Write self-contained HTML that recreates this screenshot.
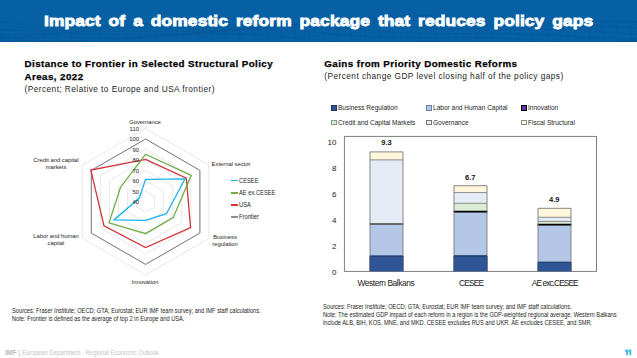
<!DOCTYPE html>
<html><head><meta charset="utf-8">
<style>
html,body{margin:0;padding:0;background:#fff;}
body{width:637px;height:358px;position:relative;overflow:hidden;font-family:"Liberation Sans",sans-serif;color:#000;}
.abs{position:absolute;left:0;top:0;}
.t{position:absolute;white-space:nowrap;line-height:1;}
#hdr{position:absolute;left:0;top:0;width:637px;height:42.4px;background:linear-gradient(to bottom,#0660a3 0,#0660a3 40.6px,#05579a 41.2px,#05579a 42.4px);overflow:hidden;}
#ttl{position:absolute;left:43.7px;top:13.3px;color:#fff;font-weight:bold;font-size:15.4px;transform-origin:0 0;transform:scaleX(1.13);-webkit-text-stroke:0.85px #fff;letter-spacing:0.1px;word-spacing:2.6px;}
.h1{font-weight:bold;font-size:9.8px;letter-spacing:0.42px;color:#000;-webkit-text-stroke:0.25px #000;}
.h2{font-size:8.3px;letter-spacing:0.44px;color:#1e1e1e;}
.rl{font-size:6.25px;color:#1e1e1e;text-align:center;line-height:7.05px;transform:scaleX(0.93);transform-origin:50% 0;}
.tick{font-size:6.2px;color:#1a1a1a;text-align:right;width:20px;transform:scaleX(0.95);transform-origin:100% 0;}
.lg{font-size:6.7px;color:#1e1e1e;transform:scaleX(0.86);transform-origin:0 0;}
.bl{font-size:8.4px;color:#222;letter-spacing:-0.43px;}
.bv{font-size:7.5px;color:#111;font-weight:bold;}
.bleg{font-size:7.7px;color:#1e1e1e;transform:scaleX(0.85);transform-origin:0 0;}
.mk{position:absolute;box-sizing:border-box;width:5.1px;height:5.1px;border:0.85px solid #777;}
.ft{font-size:7.3px;color:#1e1e1e;transform-origin:0 0;transform:scaleX(0.78);}
.yt{font-size:8px;color:#222;text-align:right;width:14px;}
</style></head><body>
<div id="hdr"><svg class="abs" width="637" height="43" viewBox="0 0 637 43"><polyline points="0,22.0 8,22.8 16,23.6 24,24.3 32,25.0 40,25.6 48,26.1 56,26.5 64,26.8 72,27.0 80,27.0 88,27.0 96,26.9 104,26.6 112,26.4 120,26.1 128,25.8 136,25.4 144,25.1 152,24.9 160,24.6 168,24.4 176,24.3 184,24.3 192,24.3 200,24.3 208,24.4 216,24.6 224,24.7 232,24.9 240,25.0 248,25.1 256,25.1 264,25.1 272,25.0 280,24.8 288,24.5 296,24.1 304,23.6 312,23.0 320,22.4 328,21.7 336,20.9 344,20.2 352,19.4 360,18.7 368,18.0 376,17.4 384,16.8 392,16.4 400,16.1 408,15.9 416,15.8 424,15.9 432,16.0 440,16.3 448,16.6 456,17.0 464,17.5 472,18.0 480,18.5 488,19.1 496,19.6 504,20.0 512,20.4 520,20.7 528,21.0 536,21.2 544,21.3 552,21.4 560,21.4 568,21.4 576,21.3 584,21.2 592,21.2 600,21.2 608,21.2 616,21.3 624,21.4 632,21.7 640,22.0" fill="none" stroke="#034f8c" stroke-width="0.6" opacity="0.45"/><polyline points="0,29.4 8,30.0 16,30.4 24,30.7 32,30.9 40,30.9 48,30.9 56,30.8 64,30.6 72,30.3 80,29.9 88,29.6 96,29.2 104,28.9 112,28.5 120,28.2 128,28.0 136,27.8 144,27.7 152,27.6 160,27.6 168,27.7 176,27.8 184,27.9 192,28.0 200,28.1 208,28.2 216,28.3 224,28.3 232,28.2 240,28.0 248,27.7 256,27.4 264,26.9 272,26.4 280,25.8 288,25.1 296,24.4 304,23.6 312,22.9 320,22.2 328,21.5 336,20.9 344,20.3 352,19.9 360,19.6 368,19.4 376,19.3 384,19.3 392,19.5 400,19.7 408,20.1 416,20.5 424,21.0 432,21.6 440,22.1 448,22.7 456,23.2 464,23.7 472,24.2 480,24.6 488,24.9 496,25.1 504,25.3 512,25.4 520,25.4 528,25.4 536,25.4 544,25.4 552,25.3 560,25.3 568,25.3 576,25.3 584,25.4 592,25.6 600,25.9 608,26.2 616,26.6 624,27.1 632,27.6 640,28.2" fill="none" stroke="#034f8c" stroke-width="0.6" opacity="0.45"/><polyline points="0,34.8 8,34.8 16,34.6 24,34.4 32,34.1 40,33.8 48,33.4 56,33.0 64,32.6 72,32.2 80,31.8 88,31.5 96,31.3 104,31.1 112,31.0 120,30.9 128,30.9 136,31.0 144,31.1 152,31.2 160,31.3 168,31.3 176,31.4 184,31.4 192,31.3 200,31.2 208,30.9 216,30.6 224,30.2 232,29.7 240,29.1 248,28.5 256,27.8 264,27.1 272,26.4 280,25.7 288,25.0 296,24.4 304,23.9 312,23.4 320,23.1 328,22.9 336,22.8 344,22.8 352,23.0 360,23.2 368,23.6 376,24.0 384,24.6 392,25.1 400,25.7 408,26.3 416,26.9 424,27.5 432,28.0 440,28.4 448,28.8 456,29.1 464,29.3 472,29.4 480,29.5 488,29.5 496,29.5 504,29.5 512,29.4 520,29.4 528,29.4 536,29.4 544,29.5 552,29.6 560,29.8 568,30.1 576,30.4 584,30.9 592,31.4 600,31.9 608,32.4 616,33.0 624,33.5 632,34.1 640,34.5" fill="none" stroke="#034f8c" stroke-width="0.6" opacity="0.45"/><polyline points="0,37.6 8,37.2 16,36.7 24,36.3 32,35.8 40,35.4 48,35.1 56,34.7 64,34.5 72,34.3 80,34.2 88,34.2 96,34.2 104,34.2 112,34.3 120,34.4 128,34.5 136,34.5 144,34.5 152,34.5 160,34.3 168,34.1 176,33.8 184,33.5 192,33.0 200,32.5 208,31.9 216,31.2 224,30.6 232,29.9 240,29.2 248,28.5 256,27.9 264,27.4 272,27.0 280,26.6 288,26.4 296,26.3 304,26.3 312,26.5 320,26.8 328,27.1 336,27.6 344,28.1 352,28.7 360,29.4 368,30.0 376,30.6 384,31.2 392,31.8 400,32.3 408,32.7 416,33.0 424,33.3 432,33.5 440,33.6 448,33.6 456,33.6 464,33.6 472,33.5 480,33.5 488,33.4 496,33.4 504,33.5 512,33.6 520,33.7 528,33.9 536,34.3 544,34.6 552,35.0 560,35.5 568,36.0 576,36.6 584,37.1 592,37.6 600,38.0 608,38.4 616,38.7 624,38.9 632,39.0 640,39.0" fill="none" stroke="#034f8c" stroke-width="0.6" opacity="0.45"/><polyline points="0,39.0 8,38.6 16,38.2 24,37.9 32,37.7 40,37.5 48,37.4 56,37.4 64,37.4 72,37.4 80,37.5 88,37.6 96,37.6 104,37.6 112,37.6 120,37.5 128,37.3 136,37.1 144,36.8 152,36.3 160,35.9 168,35.3 176,34.7 184,34.1 192,33.4 200,32.7 208,32.1 216,31.5 224,31.0 232,30.6 240,30.2 248,30.0 256,29.9 264,29.9 272,30.1 280,30.3 288,30.7 296,31.2 304,31.7 312,32.3 320,33.0 328,33.7 336,34.3 344,35.0 352,35.6 360,36.1 368,36.6 376,37.0 384,37.3 392,37.5 400,37.6 408,37.7 416,37.7 424,37.7 432,37.6 440,37.6 448,37.5 456,37.5 464,37.5 472,37.5 480,37.6 488,37.8 496,38.0 504,38.4 512,38.7 520,39.2 528,39.6 536,40.1 544,40.6 552,41.0 560,41.5 568,41.8 576,42.1 584,42.3 592,42.4 600,42.4 608,42.2 616,42.0 624,41.6 632,41.1 640,40.5" fill="none" stroke="#034f8c" stroke-width="0.6" opacity="0.45"/><polyline points="0,40.8 8,40.6 16,40.5 24,40.5 32,40.5 40,40.6 48,40.6 56,40.7 64,40.7 72,40.7 80,40.6 88,40.5 96,40.3 104,40.0 112,39.7 120,39.2 128,38.7 136,38.2 144,37.6 152,36.9 160,36.3 168,35.7 176,35.1 184,34.6 192,34.2 200,33.9 208,33.6 216,33.5 224,33.6 232,33.7 240,34.0 248,34.3 256,34.8 264,35.4 272,36.0 280,36.7 288,37.4 296,38.1 304,38.7 312,39.4 320,40.0 328,40.5 336,40.9 344,41.2 352,41.5 360,41.7 368,41.8 376,41.8 384,41.8 392,41.7 400,41.7 408,41.6 416,41.5 424,41.5 432,41.5 440,41.5 448,41.6 456,41.8 464,42.1 472,42.4 480,42.8 488,43.2 496,43.6 504,44.0 512,44.5 520,44.9 528,45.2 536,45.5 544,45.7 552,45.8 560,45.8 568,45.6 576,45.4 584,45.0 592,44.5 600,44.0 608,43.3 616,42.6 624,41.8 632,41.0 640,40.2" fill="none" stroke="#034f8c" stroke-width="0.6" opacity="0.45"/><line x1="0" y1="30.0" x2="3" y2="42" stroke="#034f8c" stroke-width="0.5" opacity="0.35"/><line x1="14" y1="30.7" x2="17" y2="42" stroke="#034f8c" stroke-width="0.5" opacity="0.35"/><line x1="28" y1="31.3" x2="31" y2="42" stroke="#034f8c" stroke-width="0.5" opacity="0.35"/><line x1="42" y1="31.9" x2="45" y2="42" stroke="#034f8c" stroke-width="0.5" opacity="0.35"/><line x1="56" y1="32.4" x2="59" y2="42" stroke="#034f8c" stroke-width="0.5" opacity="0.35"/><line x1="70" y1="32.8" x2="73" y2="42" stroke="#034f8c" stroke-width="0.5" opacity="0.35"/><line x1="84" y1="33.0" x2="87" y2="42" stroke="#034f8c" stroke-width="0.5" opacity="0.35"/><line x1="98" y1="33.0" x2="101" y2="42" stroke="#034f8c" stroke-width="0.5" opacity="0.35"/><line x1="112" y1="32.9" x2="115" y2="42" stroke="#034f8c" stroke-width="0.5" opacity="0.35"/><line x1="126" y1="32.6" x2="129" y2="42" stroke="#034f8c" stroke-width="0.5" opacity="0.35"/><line x1="140" y1="32.2" x2="143" y2="42" stroke="#034f8c" stroke-width="0.5" opacity="0.35"/><line x1="154" y1="31.6" x2="157" y2="42" stroke="#034f8c" stroke-width="0.5" opacity="0.35"/><line x1="168" y1="31.0" x2="171" y2="42" stroke="#034f8c" stroke-width="0.5" opacity="0.35"/><line x1="182" y1="30.3" x2="185" y2="42" stroke="#034f8c" stroke-width="0.5" opacity="0.35"/><line x1="196" y1="29.6" x2="199" y2="42" stroke="#034f8c" stroke-width="0.5" opacity="0.35"/><line x1="210" y1="28.9" x2="213" y2="42" stroke="#034f8c" stroke-width="0.5" opacity="0.35"/><line x1="224" y1="28.3" x2="227" y2="42" stroke="#034f8c" stroke-width="0.5" opacity="0.35"/><line x1="238" y1="27.8" x2="241" y2="42" stroke="#034f8c" stroke-width="0.5" opacity="0.35"/><line x1="252" y1="27.4" x2="255" y2="42" stroke="#034f8c" stroke-width="0.5" opacity="0.35"/><line x1="266" y1="27.1" x2="269" y2="42" stroke="#034f8c" stroke-width="0.5" opacity="0.35"/><line x1="280" y1="27.0" x2="283" y2="42" stroke="#034f8c" stroke-width="0.5" opacity="0.35"/><line x1="294" y1="27.1" x2="297" y2="42" stroke="#034f8c" stroke-width="0.5" opacity="0.35"/><line x1="308" y1="27.3" x2="311" y2="42" stroke="#034f8c" stroke-width="0.5" opacity="0.35"/><line x1="322" y1="27.6" x2="325" y2="42" stroke="#034f8c" stroke-width="0.5" opacity="0.35"/><line x1="336" y1="28.1" x2="339" y2="42" stroke="#034f8c" stroke-width="0.5" opacity="0.35"/><line x1="350" y1="28.7" x2="353" y2="42" stroke="#034f8c" stroke-width="0.5" opacity="0.35"/><line x1="364" y1="29.4" x2="367" y2="42" stroke="#034f8c" stroke-width="0.5" opacity="0.35"/><line x1="378" y1="30.1" x2="381" y2="42" stroke="#034f8c" stroke-width="0.5" opacity="0.35"/><line x1="392" y1="30.7" x2="395" y2="42" stroke="#034f8c" stroke-width="0.5" opacity="0.35"/><line x1="406" y1="31.4" x2="409" y2="42" stroke="#034f8c" stroke-width="0.5" opacity="0.35"/><line x1="420" y1="32.0" x2="423" y2="42" stroke="#034f8c" stroke-width="0.5" opacity="0.35"/><line x1="434" y1="32.4" x2="437" y2="42" stroke="#034f8c" stroke-width="0.5" opacity="0.35"/><line x1="448" y1="32.8" x2="451" y2="42" stroke="#034f8c" stroke-width="0.5" opacity="0.35"/><line x1="462" y1="33.0" x2="465" y2="42" stroke="#034f8c" stroke-width="0.5" opacity="0.35"/><line x1="476" y1="33.0" x2="479" y2="42" stroke="#034f8c" stroke-width="0.5" opacity="0.35"/><line x1="490" y1="32.9" x2="493" y2="42" stroke="#034f8c" stroke-width="0.5" opacity="0.35"/><line x1="504" y1="32.6" x2="507" y2="42" stroke="#034f8c" stroke-width="0.5" opacity="0.35"/><line x1="518" y1="32.1" x2="521" y2="42" stroke="#034f8c" stroke-width="0.5" opacity="0.35"/><line x1="532" y1="31.6" x2="535" y2="42" stroke="#034f8c" stroke-width="0.5" opacity="0.35"/><line x1="546" y1="31.0" x2="549" y2="42" stroke="#034f8c" stroke-width="0.5" opacity="0.35"/><line x1="560" y1="30.3" x2="563" y2="42" stroke="#034f8c" stroke-width="0.5" opacity="0.35"/><line x1="574" y1="29.6" x2="577" y2="42" stroke="#034f8c" stroke-width="0.5" opacity="0.35"/><line x1="588" y1="28.9" x2="591" y2="42" stroke="#034f8c" stroke-width="0.5" opacity="0.35"/><line x1="602" y1="28.3" x2="605" y2="42" stroke="#034f8c" stroke-width="0.5" opacity="0.35"/><line x1="616" y1="27.8" x2="619" y2="42" stroke="#034f8c" stroke-width="0.5" opacity="0.35"/><line x1="630" y1="27.4" x2="633" y2="42" stroke="#034f8c" stroke-width="0.5" opacity="0.35"/></svg></div>
<div id="ttl" class="t">Impact of a domestic reform package that reduces policy gaps</div>

<div class="t h1" style="left:24.5px;top:59.3px">Distance to Frontier in Selected Structural Policy</div>
<div class="t h1" style="left:24.5px;top:71.7px">Areas, 2022</div>
<div class="t h2" style="left:24.5px;top:84.9px">(Percent; Relative to Europe and USA frontier)</div>

<div class="t h1" style="left:324.3px;top:59.3px">Gains from Priority Domestic Reforms</div>
<div class="t h2" style="left:324.3px;top:72.2px">(Percent change GDP level closing half of the policy gaps)</div>

<svg class="abs" width="637" height="358" viewBox="0 0 637 358"><polygon points="145.60,191.25 154.65,196.47 154.65,206.92 145.60,212.15 136.55,206.92 136.55,196.47" fill="none" stroke="#dcdcdc" stroke-width="0.7"/><polygon points="145.60,180.80 163.70,191.25 163.70,212.15 145.60,222.60 127.50,212.15 127.50,191.25" fill="none" stroke="#dcdcdc" stroke-width="0.7"/><polygon points="145.60,170.35 172.75,186.02 172.75,217.38 145.60,233.05 118.45,217.38 118.45,186.02" fill="none" stroke="#dcdcdc" stroke-width="0.7"/><polygon points="145.60,159.90 181.80,180.80 181.80,222.60 145.60,243.50 109.40,222.60 109.40,180.80" fill="none" stroke="#dcdcdc" stroke-width="0.7"/><polygon points="145.60,149.45 190.85,175.57 190.85,227.82 145.60,253.95 100.35,227.82 100.35,175.57" fill="none" stroke="#dcdcdc" stroke-width="0.7"/><polygon points="145.60,139.00 199.90,170.35 199.90,233.05 145.60,264.40 91.30,233.05 91.30,170.35" fill="none" stroke="#dcdcdc" stroke-width="0.7"/><polygon points="145.60,128.55 208.95,165.12 208.95,238.27 145.60,274.85 82.25,238.27 82.25,165.12" fill="none" stroke="#dcdcdc" stroke-width="0.7"/><polygon points="145.60,139.00 199.90,170.35 199.90,233.05 145.60,264.40 91.30,233.05 91.30,170.35" fill="none" stroke="#7a7a7a" stroke-width="1.0" stroke-linejoin="miter"/><polygon points="145.60,159.38 186.32,178.19 190.58,227.67 145.60,247.47 103.97,225.73 90.85,170.09" fill="none" stroke="#d3343b" stroke-width="1.3" stroke-linejoin="miter"/><polygon points="145.60,154.26 191.21,175.37 173.20,217.64 145.60,233.68 109.04,222.81 120.53,187.23" fill="none" stroke="#70ad47" stroke-width="1.3" stroke-linejoin="miter"/><polygon points="145.60,179.34 184.97,178.97 166.41,213.72 145.60,220.41 114.02,219.94 139.27,198.04" fill="none" stroke="#1ab3ef" stroke-width="1.3" stroke-linejoin="miter"/></svg>
<!-- radar axis labels -->
<div class="t rl" style="left:115px;width:60px;top:117.9px">Governance</div>
<div class="t rl" style="left:201.4px;width:60px;top:160.3px">External sector</div>
<div class="t rl" style="left:195px;width:60px;top:232.8px">Business<br>regulation</div>
<div class="t rl" style="left:115px;width:60px;top:277.9px">Innovation</div>
<div class="t rl" style="left:26px;width:60px;top:232.2px">Labor and human<br>capital</div>
<div class="t rl" style="left:26px;width:60px;top:156.4px">Credit and capital<br>markets</div>
<!-- ticks -->
<div class="t tick" style="left:118.9px;top:126.0px">110</div>
<div class="t tick" style="left:118.9px;top:136.4px">100</div>
<div class="t tick" style="left:118.9px;top:146.9px">90</div>
<div class="t tick" style="left:118.9px;top:157.4px">80</div>
<div class="t tick" style="left:118.9px;top:167.8px">70</div>
<div class="t tick" style="left:118.9px;top:178.1px">60</div>
<div class="t tick" style="left:118.9px;top:188.6px">50</div>
<div class="t tick" style="left:118.9px;top:198.9px">40</div>
<!-- radar legend -->
<div class="abs" style="left:230.6px;top:180.1px;width:7.4px;height:1.4px;background:#19b2ef"></div>
<div class="abs" style="left:230.6px;top:192.3px;width:7.4px;height:1.4px;background:#70ad47"></div>
<div class="abs" style="left:230.6px;top:204.2px;width:7.4px;height:1.4px;background:#d6363b"></div>
<div class="abs" style="left:230.6px;top:216.4px;width:7.4px;height:1.4px;background:#8f8f8f"></div>
<div class="t lg" style="left:238.8px;top:177.5px">CESEE</div>
<div class="t lg" style="left:238.8px;top:189.5px">AE ex.CESEE</div>
<div class="t lg" style="left:238.8px;top:201.8px">USA</div>
<div class="t lg" style="left:238.8px;top:213.8px">Frontier</div>

<svg class="abs" width="637" height="358" viewBox="0 0 637 358"><rect x="344.4" y="136.4" width="252.1" height="135" fill="none" stroke="#7a7a7a" stroke-width="0.95"/><rect x="370.0" y="151.9" width="33.0" height="8.00" fill="#fff6dc"/><rect x="370.0" y="159.9" width="33.0" height="64.10" fill="#e6ecf6"/><rect x="370.0" y="224.0" width="33.0" height="32.10" fill="#b4c7e7"/><rect x="370.0" y="256.1" width="33.0" height="15.30" fill="#2f5597"/><line x1="370.0" y1="159.9" x2="403.0" y2="159.9" stroke="#808080" stroke-width="0.9"/><line x1="370.0" y1="224.0" x2="403.0" y2="224.0" stroke="#808080" stroke-width="0.9"/><line x1="370.0" y1="256.1" x2="403.0" y2="256.1" stroke="#1f3a6e" stroke-width="0.9"/><line x1="369.5" y1="224.0" x2="403.5" y2="224.0" stroke="#505050" stroke-width="1.3"/><path d="M370.0,271.4 V151.9 H403.0 V271.4" fill="none" stroke="#808080" stroke-width="0.95"/><path d="M370.0,271.4 V256.1 H403.0 V271.4" fill="none" stroke="#1f3a6e" stroke-width="0.95"/><rect x="454.0" y="185.7" width="33.0" height="6.90" fill="#fff6dc"/><rect x="454.0" y="192.6" width="33.0" height="10.70" fill="#e6ecf6"/><rect x="454.0" y="203.3" width="33.0" height="7.70" fill="#dcedd5"/><rect x="454.0" y="211.8" width="33.0" height="44.10" fill="#b4c7e7"/><rect x="454.0" y="255.9" width="33.0" height="15.50" fill="#2f5597"/><line x1="454.0" y1="192.6" x2="487.0" y2="192.6" stroke="#808080" stroke-width="0.9"/><line x1="454.0" y1="203.3" x2="487.0" y2="203.3" stroke="#808080" stroke-width="0.9"/><line x1="454.0" y1="211.8" x2="487.0" y2="211.8" stroke="#808080" stroke-width="0.9"/><line x1="454.0" y1="255.9" x2="487.0" y2="255.9" stroke="#1f3a6e" stroke-width="0.9"/><line x1="453.5" y1="211.6" x2="487.5" y2="211.6" stroke="#000" stroke-width="1.7"/><path d="M454.0,271.4 V185.7 H487.0 V271.4" fill="none" stroke="#808080" stroke-width="0.95"/><path d="M454.0,271.4 V255.9 H487.0 V271.4" fill="none" stroke="#1f3a6e" stroke-width="0.95"/><rect x="538.0" y="208.3" width="33.0" height="9.00" fill="#fff6dc"/><rect x="538.0" y="217.3" width="33.0" height="4.10" fill="#e6ecf6"/><rect x="538.0" y="221.4" width="33.0" height="2.80" fill="#dcedd5"/><rect x="538.0" y="224.8" width="33.0" height="37.50" fill="#b4c7e7"/><rect x="538.0" y="262.3" width="33.0" height="9.10" fill="#2f5597"/><line x1="538.0" y1="217.3" x2="571.0" y2="217.3" stroke="#808080" stroke-width="0.9"/><line x1="538.0" y1="221.4" x2="571.0" y2="221.4" stroke="#808080" stroke-width="0.9"/><line x1="538.0" y1="224.8" x2="571.0" y2="224.8" stroke="#808080" stroke-width="0.9"/><line x1="538.0" y1="262.3" x2="571.0" y2="262.3" stroke="#1f3a6e" stroke-width="0.9"/><line x1="537.5" y1="224.7" x2="571.5" y2="224.7" stroke="#000" stroke-width="1.8"/><path d="M538.0,271.4 V208.3 H571.0 V271.4" fill="none" stroke="#808080" stroke-width="0.95"/><path d="M538.0,271.4 V262.3 H571.0 V271.4" fill="none" stroke="#1f3a6e" stroke-width="0.95"/></svg>
<!-- bar legend -->
<div class="mk" style="left:331.45px;top:105.45px;background:#2f5597;border-color:#1f2f5a"></div>
<div class="t bleg" style="left:337.6px;top:104.2px">Business Regulation</div>
<div class="mk" style="left:426.45px;top:105.45px;background:#b4c7e7;border-color:#6f7f9f"></div>
<div class="t bleg" style="left:432.6px;top:104.2px">Labor and Human Capital</div>
<div class="mk" style="left:521.45px;top:105.45px;background:#7030a0;border-color:#000"></div>
<div class="t bleg" style="left:528px;top:104.2px">Innovation</div>
<div class="mk" style="left:331.45px;top:120.25px;background:#d9ecd2;border-color:#8a9a8a"></div>
<div class="t bleg" style="left:337.6px;top:118.6px">Credit and Capital Markets</div>
<div class="mk" style="left:426.45px;top:120.25px;background:#e6ecf6;border-color:#777"></div>
<div class="t bleg" style="left:432.6px;top:118.6px">Governance</div>
<div class="mk" style="left:521.45px;top:120.25px;background:#fff6dd;border-color:#888"></div>
<div class="t bleg" style="left:528px;top:118.6px">Fiscal Structural</div>
<!-- y ticks -->
<div class="t yt" style="left:322.5px;top:139.4px">10</div>
<div class="t yt" style="left:322.5px;top:165.2px">8</div>
<div class="t yt" style="left:322.5px;top:191.0px">6</div>
<div class="t yt" style="left:322.5px;top:216.8px">4</div>
<div class="t yt" style="left:322.5px;top:242.6px">2</div>
<div class="t yt" style="left:322.5px;top:268.5px">0</div>
<!-- x labels -->
<div class="t bl" style="left:351.9px;width:68px;text-align:center;top:279.4px">Western Balkans</div>
<div class="t bl" style="left:437.2px;width:68px;text-align:center;top:279.4px;letter-spacing:-0.85px">CESEE</div>
<div class="t bl" style="left:520.8px;width:68px;text-align:center;top:279.4px;letter-spacing:-0.95px">AE exc.CESEE</div>
<!-- values -->
<div class="t bv" style="left:356.5px;width:60px;text-align:center;top:139.2px">9.3</div>
<div class="t bv" style="left:440.3px;width:60px;text-align:center;top:173.5px">6.7</div>
<div class="t bv" style="left:524.3px;width:60px;text-align:center;top:195.5px">4.9</div>

<!-- footers -->
<div class="t ft" style="left:11.6px;top:306.6px">Sources: Fraser Institute; OECD; GTA; Eurostat; EUR IMF team survey; and IMF staff calculations.</div>
<div class="t ft" style="left:11.6px;top:314.7px">Note: Frontier is defined as the average of top 2 in Europe and USA.</div>
<div class="t ft" style="left:323.4px;top:302.9px">Sources: Fraser Institute; OECD; GTA; Eurostat; EUR IMF team survey; and IMF staff calculations.</div>
<div class="t ft" style="left:323.4px;top:311.1px">Note: The estimated GDP impact of each reform in a region is the GDP-weighted regional average. Western Balkans</div>
<div class="t ft" style="left:323.4px;top:319.1px">include ALB, BIH, KOS, MNE, and MKD. CESEE excludes RUS and UKR. AE excludes CESEE, and SMR.</div>
<div class="t" style="left:4.9px;top:349.7px;font-size:6.9px;color:#b9b9b9;font-weight:bold">IMF</div><div class="t" style="left:18.6px;top:349.7px;font-size:6.9px;color:#c6c6c6">|</div><div class="t" style="left:22.2px;top:349.7px;font-size:6.9px;color:#c6c6c6;transform-origin:0 0;transform:scaleX(0.86)">European Department - Regional Economic Outlook</div>
<svg class="abs" width="637" height="358" viewBox="0 0 637 358"><path d="M626.1,349.6 H628.0 V355.2 H626.1 V351.4 L624.9,351.9 V350.6 Z M629.4,349.6 H631.3 V355.2 H629.4 V351.4 L628.2,351.9 V350.6 Z" fill="#4ab8ee"/></svg>
</body></html>
